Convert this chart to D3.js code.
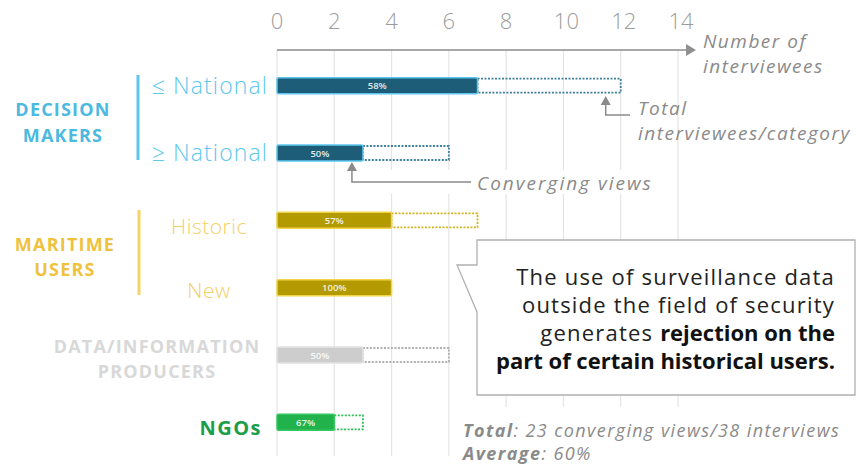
<!DOCTYPE html>
<html><head><meta charset="utf-8">
<script src="https://cdn.jsdelivr.net/npm/d3@7"></script>
<style>
html,body{margin:0;padding:0;background:#fff;}
svg{display:block;font-family:"Open Sans","Lato",sans-serif;}
</style></head>
<body><svg id="c" width="864" height="466"></svg>
<script>
// ---- data ----
const rowKeys = ["dm_low","dm_high","mu_hist","mu_new","data","ngo"];
const rowLabels = ["≤ National","≥ National","Historic","New","",""];
const converging = [7,3,4,4,3,2];
const totals = [12,6,7,4,6,3];
const xTicks = [0,2,4,6,8,10,12,14];
const groupNames = [["DECISION","MAKERS"],["MARITIME","USERS"],["DATA/INFORMATION","PRODUCERS"],["NGOs"]];
const fillColors = ["#1d5d78","#1d5d78","#b39a00","#b39a00","#cdcdcd","#22b24c"];
const edgeColors = ["#5cc6ee","#5cc6ee","#f3d34a","#f3d34a","#e2e2e2","#35c862"];
const dotColors  = ["#3d7f9c","#3d7f9c","#d2b31a","#d2b31a","#b0b0b0","#2cbf57"];
const labelColors = ["#5cc8f0","#5cc8f0","#f2cf66","#f2cf66","#d9d9d9","#1a9e48"];
const groupColors = ["#4bb9e0","#efc23d","#d8d8d8","#1a9e48"];

const svg = d3.select("#c");
const x = d3.scaleLinear().domain([0,14]).range([277,678]);
const y = d3.scalePoint().domain(rowKeys).range([52,456]).padding(0.5);
const barH = 16;
const axisY = 50;

// gridlines
svg.append("g").selectAll("line").data(xTicks).join("line")
  .attr("x1",d=>x(d)).attr("x2",d=>x(d))
  .attr("y1",axisY).attr("y2",456)
  .attr("stroke","#e4e4e4").attr("stroke-width",1.2);

// tick labels
svg.append("g").selectAll("text").data(xTicks).join("text")
  .attr("x",d=>x(d)+ (d>=10?3:0)).attr("y",29)
  .attr("text-anchor","middle")
  .attr("font-size",22).attr("font-weight",300)
  .attr("fill","#9c9c9c").text(d=>d);

// axis line with arrow
svg.append("line").attr("x1",x(0)).attr("x2",688).attr("y1",axisY).attr("y2",axisY)
  .attr("stroke","#a8a8a8").attr("stroke-width",2);
svg.append("path").attr("d",`M686,${axisY-6}L696,${axisY}L686,${axisY+6}Z`).attr("fill","#8f8f8f");

function ital(xp, yp, txt){
  return svg.append("text").attr("x",xp).attr("y",yp).attr("font-size",19)
    .attr("font-style","italic").attr("letter-spacing",1.5).attr("fill","#8a8a8a").text(txt);
}
// axis title
ital(703,48,"Number of");
ital(703,73,"interviewees");

// dotted totals
svg.append("g").selectAll("rect").data(rowKeys).join("rect")
  .attr("x",(d,i)=>x(converging[i]))
  .attr("width",(d,i)=>Math.max(0,x(totals[i])-x(converging[i])))
  .attr("y",d=>y(d)-barH/2+1).attr("height",barH-2)
  .attr("fill","none").attr("stroke",(d,i)=>dotColors[i])
  .attr("stroke-width",1.8).attr("stroke-dasharray","2,1.5");

// filled converging bars
svg.append("g").selectAll("rect").data(rowKeys).join("rect")
  .attr("x",x(0)).attr("width",(d,i)=>x(converging[i])-x(0))
  .attr("y",d=>y(d)-barH/2).attr("height",barH)
  .attr("rx",1.5)
  .attr("fill",(d,i)=>fillColors[i]).attr("stroke",(d,i)=>edgeColors[i]).attr("stroke-width",1.5);

// percent labels
svg.append("g").selectAll("text").data(rowKeys).join("text")
  .attr("x",(d,i)=>(x(0)+x(converging[i]))/2).attr("y",d=>y(d)+3.5)
  .attr("text-anchor","middle").attr("font-size",9.5).attr("font-weight",600)
  .attr("fill","#fff").attr("fill-opacity",0.9)
  .text((d,i)=>Math.round(converging[i]/totals[i]*100)+"%");

// row labels
svg.append("g").selectAll("text").data(rowKeys.slice(0,2)).join("text")
  .attr("x",268).attr("y",d=>y(d)+8)
  .attr("text-anchor","end").attr("font-size",23).attr("font-weight",300).attr("letter-spacing",1.1)
  .attr("fill",(d,i)=>labelColors[i]).text((d,i)=>rowLabels[i]);
svg.append("g").selectAll("text").data(rowKeys.slice(2,4)).join("text")
  .attr("x",209).attr("y",(d,i)=>y(d)+(i===0?14:10))
  .attr("text-anchor","middle").attr("font-size",21).attr("font-weight",300).attr("letter-spacing",0.5)
  .attr("fill",(d,i)=>labelColors[i+2]).text((d,i)=>rowLabels[i+2]);

// brackets
svg.append("line").attr("x1",138).attr("x2",138).attr("y1",75).attr("y2",160).attr("stroke","#5cc6ee").attr("stroke-width",3);
svg.append("line").attr("x1",139).attr("x2",139).attr("y1",210).attr("y2",295).attr("stroke","#f3d36a").attr("stroke-width",3);

// group labels
const gpos = [{x:63,y:[116,142],a:"middle",fs:18},{x:65,y:[251,276],a:"middle",fs:18},{x:157,y:[353,378],a:"middle",fs:18},{x:262,y:[435],a:"end",fs:20}];
groupNames.forEach((lines,gi)=>{
  const t = svg.append("text").attr("text-anchor",gpos[gi].a).attr("font-size",gpos[gi].fs)
    .attr("font-weight",700).attr("letter-spacing",gi===3?1.5:1.2).attr("fill",groupColors[gi]);
  lines.forEach((ln,li)=>t.append("tspan").attr("x",gpos[gi].x).attr("y",gpos[gi].y[li]).text(ln));
});

// annotation: Total interviewees/category
svg.append("path").attr("d",`M${x(totals[0])-15},104V115H630`).attr("fill","none").attr("stroke","#8a8a8a").attr("stroke-width",1.5);
svg.append("path").attr("d",`M${x(totals[0])-15},96l-5,9h10Z`).attr("fill","#8a8a8a");
ital(638,115,"Total");
ital(638,140,"interviewees/category");

// annotation: Converging views
svg.append("rect").attr("x",345).attr("y",170).attr("width",330).attr("height",24).attr("fill","#fff");
svg.append("path").attr("d",`M${x(converging[1])-11},170V182H471`).attr("fill","none").attr("stroke","#8a8a8a").attr("stroke-width",1.5);
svg.append("path").attr("d",`M${x(converging[1])-11},162l-5,9h10Z`).attr("fill","#8a8a8a");
ital(477,190,"Converging views").attr("letter-spacing",2);

// callout box
svg.append("path").attr("d","M477,240H855V395H477V312L457,265H477Z")
  .attr("fill","#fff").attr("stroke","#b0b0b0").attr("stroke-width",1.3);
const cl = [["The use of surveillance data",""],["outside the field of security",""],["generates ","rejection on the"],["","part of certain historical users."]];
cl.forEach((p,i)=>{
  const t = svg.append("text").attr("x",835).attr("y",285+i*28).attr("text-anchor","end").attr("font-size",22).attr("fill","#222");
  if(p[0]) t.append("tspan").attr("letter-spacing",1.2).text(p[0]);
  if(p[1]) t.append("tspan").attr("font-weight",700).attr("fill","#111").attr("letter-spacing",0).text(p[1]);
});

// bottom note
svg.append("rect").attr("x",458).attr("y",407).attr("width",400).attr("height",59).attr("fill","#fff");
const n1 = svg.append("text").attr("x",463).attr("y",437).attr("font-size",18).attr("font-style","italic").attr("letter-spacing",1.4).attr("fill","#8a8a8a");
n1.append("tspan").attr("font-weight",700).text("Total");
n1.append("tspan").text(`: ${d3.sum(converging)} converging views/${d3.sum(totals)} interviews`);
const n2 = svg.append("text").attr("x",463).attr("y",460).attr("font-size",18).attr("font-style","italic").attr("letter-spacing",1.4).attr("fill","#8a8a8a");
n2.append("tspan").attr("font-weight",700).text("Average");
n2.append("tspan").text(`: ${Math.floor(d3.sum(converging)/d3.sum(totals)*100)}%`);
</script></body></html>
